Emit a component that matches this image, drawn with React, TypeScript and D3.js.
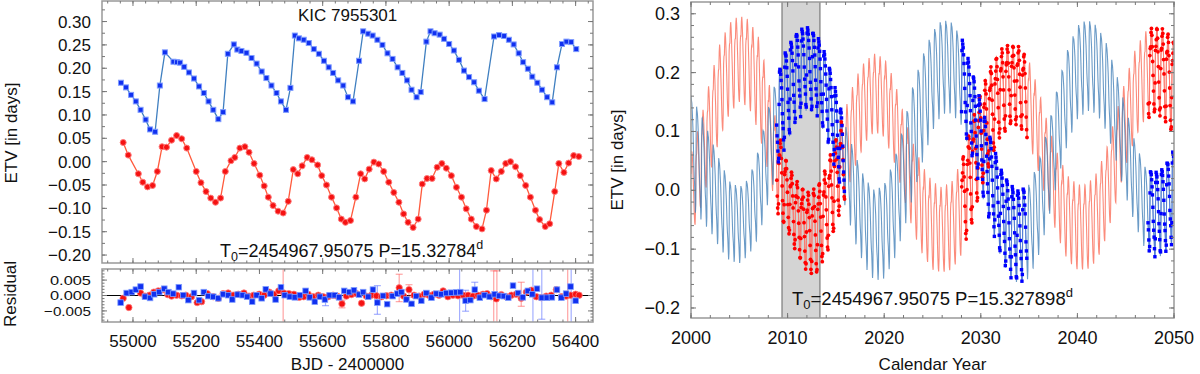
import React, { useEffect, useRef } from "react";
import * as d3 from "d3";

// ---------------- LEFT PANEL: Kepler ETVs (BJD - 2400000, days) ----------------
const primaryBJD = [54962, 54978, 54994, 55009, 55024, 55040, 55054, 55070, 55085, 55101, 55128, 55139, 55149, 55162, 55177, 55193, 55209, 55224, 55239, 55254, 55270, 55285, 55300, 55319, 55330, 55343, 55359, 55375, 55391, 55407, 55422, 55438, 55454, 55468, 55484, 55498, 55512, 55525, 55540, 55556, 55572, 55588, 55604, 55619, 55633, 55649, 55665, 55680, 55696, 55715, 55728, 55744, 55758, 55773, 55789, 55805, 55821, 55837, 55852, 55867, 55881, 55897, 55910, 55928, 55941, 55954, 55970, 55984, 56000, 56015, 56031, 56047, 56063, 56079, 56094, 56112, 56142, 56158, 56174, 56189, 56204, 56220, 56234, 56249, 56263, 56279, 56294, 56310, 56326, 56341, 56357, 56371, 56386, 56402];
const primaryETV = [0.169, 0.159, 0.143, 0.129, 0.111, 0.090, 0.069, 0.064, 0.163, 0.234, 0.214, 0.213, 0.212, 0.203, 0.191, 0.178, 0.161, 0.147, 0.129, 0.111, 0.091, 0.106, 0.231, 0.251, 0.240, 0.237, 0.233, 0.222, 0.210, 0.193, 0.179, 0.163, 0.147, 0.129, 0.111, 0.158, 0.270, 0.264, 0.261, 0.254, 0.241, 0.231, 0.216, 0.202, 0.190, 0.174, 0.163, 0.138, 0.129, 0.216, 0.279, 0.274, 0.270, 0.261, 0.250, 0.232, 0.220, 0.202, 0.190, 0.174, 0.154, 0.138, 0.149, 0.257, 0.279, 0.275, 0.272, 0.263, 0.252, 0.238, 0.218, 0.195, 0.181, 0.170, 0.152, 0.134, 0.268, 0.271, 0.269, 0.261, 0.251, 0.232, 0.213, 0.199, 0.182, 0.169, 0.154, 0.138, 0.127, 0.202, 0.252, 0.257, 0.256, 0.241];

const secondaryBJD = [54969, 54985, 55017, 55031, 55046, 55062, 55077, 55092, 55106, 55122, 55138, 55154, 55170, 55200, 55215, 55231, 55246, 55261, 55277, 55292, 55310, 55322, 55338, 55354, 55367, 55383, 55401, 55415, 55428, 55443, 55459, 55475, 55491, 55507, 55521, 55535, 55551, 55566, 55584, 55597, 55612, 55628, 55644, 55659, 55672, 55688, 55705, 55720, 55733, 55747, 55762, 55777, 55793, 55809, 55825, 55841, 55856, 55870, 55886, 55902, 55915, 55930, 55946, 55962, 55977, 55991, 56007, 56023, 56039, 56054, 56070, 56086, 56104, 56118, 56133, 56149, 56165, 56179, 56194, 56210, 56225, 56242, 56257, 56273, 56286, 56304, 56318, 56334, 56347, 56363, 56378, 56394, 56410];
const secondaryETV = [0.041, 0.014, -0.026, -0.044, -0.054, -0.051, -0.021, 0.032, 0.031, 0.046, 0.056, 0.049, 0.029, -0.021, -0.045, -0.064, -0.078, -0.087, -0.078, -0.021, 0.002, 0.009, 0.029, 0.032, 0.020, -0.004, -0.029, -0.052, -0.076, -0.094, -0.106, -0.110, -0.085, -0.017, -0.026, -0.009, 0.009, 0.004, -0.007, -0.030, -0.050, -0.076, -0.099, -0.123, -0.130, -0.126, -0.076, -0.026, -0.037, -0.016, -0.001, -0.005, -0.021, -0.044, -0.066, -0.087, -0.112, -0.130, -0.141, -0.123, -0.048, -0.036, -0.036, -0.012, -0.004, -0.014, -0.030, -0.055, -0.076, -0.101, -0.123, -0.139, -0.144, -0.104, -0.019, -0.037, -0.021, -0.004, 0.000, -0.011, -0.030, -0.051, -0.076, -0.104, -0.124, -0.139, -0.133, -0.064, -0.004, -0.023, -0.003, 0.013, 0.011];

// residuals
const primaryResBJD = [54961, 54980, 54996, 55009, 55024, 55038, 55054, 55067, 55083, 55099, 55112, 55127, 55145, 55159, 55175, 55193, 55209, 55224, 55238, 55254, 55270, 55285, 55301, 55314, 55331, 55347, 55361, 55377, 55391, 55407, 55420, 55435, 55451, 55468, 55480, 55496, 55512, 55528, 55546, 55559, 55575, 55591, 55607, 55622, 55638, 55652, 55668, 55684, 55699, 55715, 55728, 55744, 55759, 55773, 55791, 55804, 55821, 55836, 55849, 55865, 55881, 55896, 55912, 55928, 55944, 55960, 55975, 55991, 56007, 56023, 56035, 56052, 56067, 56081, 56097, 56112, 56128, 56144, 56158, 56173, 56187, 56202, 56218, 56233, 56249, 56263, 56278, 56293, 56309, 56325, 56341, 56355, 56370, 56384, 56400];
const primaryRes = [-0.0023, 0.0008, 0.0011, 0.0019, 0.0029, -0.0004, -0.0008, 0.0004, 0.0011, 0.0022, 0.0011, 0.0006, 0.0027, 0.0001, -0.0015, 0.0008, -0.0015, 0.0011, -0.0002, -0.0004, -0.0009, 0.0004, 0.0001, -0.0013, 0.0003, 0.0001, -0.0004, -0.0020, 0.0001, -0.0009, 0.0020, 0.0006, -0.0013, 0.0027, 0.0001, -0.0004, -0.0006, 0.0001, 0.0015, -0.0006, -0.0020, -0.0004, -0.0013, 0.0001, 0.0001, -0.0006, 0.0015, 0.0011, 0.0017, 0.0003, 0.0011, -0.0004, 0.0019, -0.0023, -0.0001, -0.0028, -0.0002, 0.0006, 0.0011, -0.0013, -0.0027, -0.0002, -0.0017, 0.0008, -0.0007, 0.0006, 0.0004, 0.0008, 0.0009, 0.0010, 0.0011, -0.0017, -0.0015, 0.0019, -0.0007, 0.0001, -0.0004, 0.0004, -0.0001, -0.0002, -0.0007, 0.0032, 0.0008, -0.0006, 0.0015, 0.0004, 0.0022, -0.0007, -0.0007, -0.0006, 0.0019, -0.0007, 0.0006, 0.0029, -0.0017];
const secondaryResBJD = [54969, 54987, 55024, 55038, 55052, 55066, 55080, 55096, 55110, 55122, 55138, 55154, 55167, 55185, 55203, 55217, 55235, 55254, 55270, 55285, 55301, 55317, 55333, 55351, 55367, 55382, 55399, 55415, 55431, 55446, 55461, 55477, 55493, 55509, 55526, 55540, 55554, 55570, 55586, 55601, 55617, 55633, 55646, 55661, 55675, 55691, 55707, 55723, 55738, 55754, 55770, 55786, 55802, 55817, 55842, 55856, 55873, 55889, 55905, 55921, 55936, 55952, 55968, 55981, 55996, 56012, 56028, 56044, 56060, 56075, 56091, 56107, 56120, 56133, 56149, 56165, 56181, 56197, 56212, 56228, 56244, 56260, 56276, 56291, 56307, 56323, 56339, 56355, 56370, 56384, 56400, 56411];
const secondaryRes = [-0.0009, -0.0039, 0.0008, -0.0002, 0.0001, 0.0011, 0.0015, 0.0019, 0.0003, -0.0002, 0.0001, -0.0001, 0.0001, -0.0004, -0.0023, -0.0020, 0.0006, -0.0004, -0.0009, 0.0006, 0.0008, 0.0001, 0.0004, 0.0008, -0.0002, 0.0001, 0.0004, 0.0001, 0.0011, 0.0004, 0.0015, 0.0008, 0.0006, 0.0004, -0.0006, -0.0004, 0.0004, -0.0004, 0.0001, -0.0004, -0.0004, 0.0001, -0.0002, -0.0027, -0.0002, 0.0003, 0.0006, -0.0025, -0.0002, 0.0001, -0.0001, -0.0004, -0.0001, 0.0001, 0.0025, -0.0002, 0.0019, 0.0001, -0.0002, 0.0004, 0.0001, 0.0004, 0.0001, 0.0015, -0.0004, 0.0001, -0.0001, 0.0001, 0.0001, -0.0002, 0.0001, 0.0004, 0.0006, -0.0004, -0.0011, 0.0003, -0.0004, 0.0001, 0.0004, -0.0009, 0.0011, 0.0017, -0.0004, -0.0007, -0.0002, 0.0001, 0.0019, -0.0004, -0.0002, 0.0001, 0.0004, 0.0001];

// large residual error bars (time, low, high)
const primaryErrBJD = [55609, 55773, 56033, 56052, 56081, 56265, 56293, 56386];
const primaryErrLo = [-0.0033, -0.0061, -0.02, -0.0051, -0.0009, -0.02, -0.0077, -0.02];
const primaryErrHi = [0.0000, 0.0032, 0.02, 0.0017, 0.0043, 0.02, 0.0100, 0.02];
const secondaryErrBJD = [55475, 55661, 55842, 55873, 56141, 56151, 56228, 56375];
const secondaryErrLo = [-0.02, -0.0040, -0.0020, -0.0005, -0.02, -0.02, -0.0035, -0.02];
const secondaryErrHi = [0.02, -0.0015, 0.0069, 0.0035, 0.0080, 0.0080, 0.0043, 0.02];

// ---------------- RIGHT PANEL: long-term model ----------------
const envYears = [2000, 2001, 2002, 2003, 2004, 2005, 2006, 2007, 2008, 2009, 2010, 2011, 2012, 2013, 2014, 2015, 2016, 2017, 2018, 2019, 2020, 2021, 2022, 2023, 2024, 2025, 2026, 2027, 2028, 2029, 2030, 2031, 2032, 2033, 2034, 2035, 2036, 2037, 2038, 2039, 2040, 2041, 2042, 2043, 2044, 2045, 2046, 2047, 2048, 2049, 2050];
const primaryUpper = [0.16, 0.13, 0.09, 0.05, 0.015, 0.005, 0.02, 0.07, 0.14, 0.2, 0.245, 0.27, 0.279, 0.265, 0.23, 0.17, 0.11, 0.06, 0.02, 0.0, 0.01, 0.05, 0.11, 0.18, 0.23, 0.27, 0.29, 0.285, 0.26, 0.21, 0.15, 0.09, 0.04, 0.01, 0.0, 0.01, 0.05, 0.11, 0.18, 0.24, 0.28, 0.29, 0.28, 0.25, 0.2, 0.14, 0.08, 0.04, 0.03, 0.04, 0.07];
const primaryLower = [-0.03, -0.05, -0.07, -0.1, -0.12, -0.125, -0.11, -0.08, -0.02, 0.04, 0.085, 0.118, 0.137, 0.128, 0.09, 0.03, -0.03, -0.09, -0.13, -0.155, -0.15, -0.12, -0.07, -0.01, 0.05, 0.1, 0.13, 0.13, 0.11, 0.06, 0.0, -0.06, -0.11, -0.15, -0.16, -0.15, -0.11, -0.05, 0.02, 0.08, 0.12, 0.135, 0.13, 0.1, 0.05, -0.01, -0.06, -0.1, -0.115, -0.11, -0.09];
const secondaryUpper = [0.06, 0.12, 0.19, 0.25, 0.285, 0.297, 0.29, 0.26, 0.19, 0.1, 0.045, 0.015, -0.002, 0.005, 0.04, 0.09, 0.14, 0.19, 0.22, 0.232, 0.225, 0.19, 0.13, 0.08, 0.04, 0.015, 0.005, 0.015, 0.05, 0.11, 0.17, 0.21, 0.24, 0.25, 0.245, 0.22, 0.17, 0.11, 0.06, 0.025, 0.01, 0.01, 0.03, 0.07, 0.13, 0.19, 0.24, 0.27, 0.28, 0.275, 0.255];
const secondaryLower = [-0.08, -0.03, 0.03, 0.09, 0.13, 0.15, 0.14, 0.1, 0.03, -0.04, -0.07, -0.11, -0.14, -0.143, -0.11, -0.06, -0.01, 0.04, 0.08, 0.1, 0.09, 0.05, -0.01, -0.07, -0.11, -0.135, -0.14, -0.135, -0.11, -0.06, 0.0, 0.05, 0.09, 0.11, 0.11, 0.08, 0.03, -0.03, -0.08, -0.12, -0.135, -0.135, -0.12, -0.08, -0.02, 0.04, 0.09, 0.12, 0.13, 0.12, 0.09];

// shape of one ~209 d cycle (normalised, read from the Kepler data)
const cyclePhase = [0, 0.0714, 0.1429, 0.2143, 0.2857, 0.3571, 0.4286, 0.5, 0.5714, 0.6429, 0.7143, 0.7857, 0.8571, 0.9286, 1];
const primaryShape = [0, 0.1, 0.85, 1.0, 0.97, 0.95, 0.89, 0.81, 0.72, 0.58, 0.42, 0.32, 0.25, 0.12, 0];
const secondaryShape = [0, 0.15, 0.69, 0.77, 0.77, 0.94, 1.0, 0.93, 0.81, 0.64, 0.49, 0.31, 0.15, 0.04, 0];
const primaryTrough = 55897;
const secondaryTrough = 55886;
const innerPeriod = 209.3;
const eclipsePeriod = 15.327898;
const T0 = 54967.95075;
const secondaryOffset = 7.5;
const dataWindows = [[2008.85, 2015.9], [2028.0, 2034.8], [2047.3, 2050.0]];
const keplerSpan = [2009.42, 2013.35];

const leftXTicks = [55000, 55200, 55400, 55600, 55800, 56000, 56200, 56400];
const leftYTicks = [-0.2, -0.15, -0.1, -0.05, 0, 0.05, 0.1, 0.15, 0.2, 0.25, 0.3];
const resYTicks = [-0.005, 0, 0.005];
const rightXTicks = [2000, 2010, 2020, 2030, 2040, 2050];
const rightYTicks = [-0.2, -0.1, 0, 0.1, 0.2, 0.3];

const FONT = "'Liberation Sans', Arial, Helvetica, sans-serif";

export default function App() {
  const ref = useRef<SVGSVGElement>(null);

  useEffect(() => {
    const svg = d3.select(ref.current);
    svg.selectAll("*").remove();
    const defs = svg.append("defs");
    const clip = (id: string, x0: number, y0: number, x1: number, y1: number) => {
      defs.append("clipPath").attr("id", id).append("rect").attr("x", x0).attr("y", y0).attr("width", x1 - x0).attr("height", y1 - y0);
    };

    const frameCol = "#999";
    const tickCol = "#777";

    const xTicks = (scale: any, vals: number[], yb: number, yt: number, len: number) => {
      vals.forEach((v) => {
        const x = scale(v);
        svg.append("line").attr("x1", x).attr("x2", x).attr("y1", yb).attr("y2", yb - len).attr("stroke", tickCol).attr("stroke-width", 1);
        svg.append("line").attr("x1", x).attr("x2", x).attr("y1", yt).attr("y2", yt + len).attr("stroke", tickCol).attr("stroke-width", 1);
      });
    };
    const yTicks = (scale: any, vals: number[], xl: number, xr: number, len: number) => {
      vals.forEach((v) => {
        const y = scale(v);
        svg.append("line").attr("x1", xl).attr("x2", xl + len).attr("y1", y).attr("y2", y).attr("stroke", tickCol).attr("stroke-width", 1);
        svg.append("line").attr("x1", xr).attr("x2", xr - len).attr("y1", y).attr("y2", y).attr("stroke", tickCol).attr("stroke-width", 1);
      });
    };
    const frame = (x0: number, y0: number, x1: number, y1: number) => {
      svg.append("rect").attr("x", x0).attr("y", y0).attr("width", x1 - x0).attr("height", y1 - y0)
        .attr("fill", "none").attr("stroke", frameCol).attr("stroke-width", 1.5);
    };
    const label = (x: number, y: number, t: string, size: number, anchor = "middle", rot = 0) => {
      const el = svg.append("text").attr("x", x).attr("y", y).attr("text-anchor", anchor)
        .attr("font-family", FONT).attr("font-size", size).attr("fill", "#111").text(t);
      if (rot) el.attr("transform", `rotate(${rot},${x},${y})`);
      return el;
    };

    // ================= LEFT TOP =================
    const L0 = 102, L1 = 593, T_top = 1, T_bot = 263, R_top = 269, R_bot = 322;
    const xL = d3.scaleLinear().domain([54902, 56455]).range([L0, L1]);
    const yT = d3.scaleLinear().domain([-0.217, 0.344]).range([T_bot, T_top]);
    const yR = d3.scaleLinear().domain([-0.0086, 0.0086]).range([R_bot, R_top]);
    clip("clipLT", L0, T_top, L1, T_bot);
    clip("clipLR", L0, R_top, L1, R_bot);

    const gT = svg.append("g").attr("clip-path", "url(#clipLT)");
    const pPts = primaryBJD.map((t, i) => [t, primaryETV[i]] as [number, number]);
    const sPts = secondaryBJD.map((t, i) => [t, secondaryETV[i]] as [number, number]);
    const lineT = d3.line<[number, number]>().x((d) => xL(d[0])).y((d) => yT(d[1]));
    gT.append("path").attr("d", lineT(pPts)!).attr("fill", "none").attr("stroke", "#3f7fc0").attr("stroke-width", 1.3);
    gT.append("path").attr("d", lineT(sPts)!).attr("fill", "none").attr("stroke", "#ff5a3c").attr("stroke-width", 1.3);
    gT.selectAll("circle.s").data(sPts).enter().append("circle")
      .attr("cx", (d) => xL(d[0])).attr("cy", (d) => yT(d[1])).attr("r", 3)
      .attr("fill", "#f51212").attr("stroke", "#ff7b7b").attr("stroke-width", 1);
    gT.selectAll("rect.p").data(pPts).enter().append("rect")
      .attr("x", (d) => xL(d[0]) - 2.5).attr("y", (d) => yT(d[1]) - 2.5).attr("width", 5).attr("height", 5)
      .attr("fill", "#1030f0").attr("stroke", "#7f9cff").attr("stroke-width", 1);

    frame(L0, T_top, L1, T_bot);
    const xMinor = d3.range(54920, 56455, 40);
    xTicks(xL, xMinor, T_bot, T_top, 2.5);
    xTicks(xL, leftXTicks, T_bot, T_top, 5);
    yTicks(yT, d3.range(-0.2, 0.34, 0.025), L0, L1, 3);
    yTicks(yT, leftYTicks, L0, L1, 5);
    leftYTicks.forEach((v) => label(91, yT(v) + 6, d3.format(".2f")(v), 17, "end"));
    label(298, 21, "KIC 7955301", 17, "start");

    const t0L = svg.append("text").attr("x", 220).attr("y", 257).attr("font-family", FONT).attr("font-size", 18).attr("fill", "#111");
    t0L.append("tspan").text("T");
    t0L.append("tspan").attr("font-size", 12.5).attr("dy", 4).text("0");
    t0L.append("tspan").attr("dy", -4).text("=2454967.95075 P=15.32784");
    t0L.append("tspan").attr("font-size", 12.5).attr("dy", -8).text("d");

    label(17, 133, "ETV [in days]", 17, "middle", -90);

    // ================= LEFT RESIDUAL =================
    const gR = svg.append("g").attr("clip-path", "url(#clipLR)");
    gR.append("line").attr("x1", L0).attr("x2", L1).attr("y1", yR(0)).attr("y2", yR(0)).attr("stroke", "#000").attr("stroke-width", 1.2);
    const errBar = (t: number, lo: number, hi: number, col: string) => {
      const x = xL(t);
      gR.append("line").attr("x1", x).attr("x2", x).attr("y1", yR(lo)).attr("y2", yR(hi)).attr("stroke", col).attr("stroke-width", 1.2);
      [lo, hi].forEach((v) => gR.append("line").attr("x1", x - 3.5).attr("x2", x + 3.5).attr("y1", yR(v)).attr("y2", yR(v)).attr("stroke", col).attr("stroke-width", 1.2));
    };
    secondaryErrBJD.forEach((t, i) => errBar(t, secondaryErrLo[i], secondaryErrHi[i], "rgba(255,90,90,0.55)"));
    primaryErrBJD.forEach((t, i) => errBar(t, primaryErrLo[i], primaryErrHi[i], "rgba(90,110,255,0.55)"));
    const sRes = secondaryResBJD.map((t, i) => [t, secondaryRes[i]] as [number, number]);
    const pRes = primaryResBJD.map((t, i) => [t, primaryRes[i]] as [number, number]);
    gR.selectAll("circle.s").data(sRes).enter().append("circle")
      .attr("cx", (d) => xL(d[0])).attr("cy", (d) => yR(d[1])).attr("r", 3.2)
      .attr("fill", "#f51212").attr("stroke", "#ff7b7b").attr("stroke-width", 0.8);
    gR.selectAll("rect.p").data(pRes).enter().append("rect")
      .attr("x", (d) => xL(d[0]) - 2.8).attr("y", (d) => yR(d[1]) - 2.8).attr("width", 5.6).attr("height", 5.6)
      .attr("fill", "#1030f0").attr("stroke", "#7f9cff").attr("stroke-width", 0.8);
    frame(L0, R_top, L1, R_bot);
    xTicks(xL, xMinor, R_bot, R_top, 2.5);
    xTicks(xL, leftXTicks, R_bot, R_top, 5);
    yTicks(yR, d3.range(-0.008, 0.0085, 0.001), L0, L1, 2.5);
    yTicks(yR, resYTicks, L0, L1, 5);
    resYTicks.forEach((v) => {
      const txt = d3.format(".3f")(v);
      label(91, yR(v) + 4.8, txt, 13.5, "end")
        .attr("textLength", txt.length === 6 ? 47 : 41).attr("lengthAdjust", "spacingAndGlyphs");
    });
    leftXTicks.forEach((v) => label(xL(v), 346.5, String(v), 17));
    label((L0 + L1) / 2, 370, "BJD - 2400000", 17);
    label(16, 294, "Residual", 17, "middle", -90);

    // ================= RIGHT PANEL =================
    const Rx0 = 691, Rx1 = 1174, Ry0 = 2, Ry1 = 318;
    const xr = d3.scaleLinear().domain([2000, 2050]).range([Rx0, Rx1]);
    const yr = d3.scaleLinear().domain([-0.217, 0.32]).range([Ry1, Ry0]);
    clip("clipR", Rx0, Ry0, Rx1, Ry1);
    const g = svg.append("g").attr("clip-path", "url(#clipR)");

    g.append("rect").attr("x", xr(keplerSpan[0])).attr("y", Ry0).attr("width", xr(keplerSpan[1]) - xr(keplerSpan[0]))
      .attr("height", Ry1 - Ry0).attr("fill", "#d4d4d4");
    [keplerSpan[0], keplerSpan[1]].forEach((v) =>
      g.append("line").attr("x1", xr(v)).attr("x2", xr(v)).attr("y1", Ry0).attr("y2", Ry1).attr("stroke", "#666").attr("stroke-width", 1));

    const envPU = d3.scaleLinear().domain(envYears).range(primaryUpper);
    const envPL = d3.scaleLinear().domain(envYears).range(primaryLower);
    const envSU = d3.scaleLinear().domain(envYears).range(secondaryUpper);
    const envSL = d3.scaleLinear().domain(envYears).range(secondaryLower);
    const shapeP = d3.scaleLinear().domain(cyclePhase).range(primaryShape);
    const shapeS = d3.scaleLinear().domain(cyclePhase).range(secondaryShape);
    const toDay = (yr: number) => (yr - 2000) * 365.25 + 51544.5;
    const toYear = (d: number) => 2000 + (d - 51544.5) / 365.25;
    const model = (yrv: number, up: any, lo: any, trough: number, shape: any) => {
      const d = toDay(yrv);
      let ph = ((d - trough) / innerPeriod) % 1;
      if (ph < 0) ph += 1;
      const u = up(yrv), l = lo(yrv);
      return l + (u - l) * shape(ph);
    };
    const modelP = (y: number) => model(y, envPU, envPL, primaryTrough, shapeP);
    const modelS = (y: number) => model(y, envSU, envSL, secondaryTrough, shapeS);

    const ts = d3.range(2000, 2050.001, 2.5 / 365.25);
    const lineR = d3.line<number>().x((t) => xr(t));
    g.append("path").attr("d", lineR.y((t) => yr(modelS(t)))(ts)!).attr("fill", "none")
      .attr("stroke", "rgba(250,110,90,0.8)").attr("stroke-width", 1.1);
    g.append("path").attr("d", lineR.y((t) => yr(modelP(t)))(ts)!).attr("fill", "none")
      .attr("stroke", "rgba(70,130,185,0.8)").attr("stroke-width", 1.1);

    // observed-epoch points inside the data windows
    dataWindows.forEach(([a, b]) => {
      const e0 = Math.ceil((toDay(a) - T0) / eclipsePeriod);
      const e1 = Math.floor((toDay(b) - T0) / eclipsePeriod);
      const epochs = d3.range(e0, e1 + 1);
      const sT = epochs.map((e) => toYear(T0 + e * eclipsePeriod + secondaryOffset)).filter((t) => t <= b);
      const pT = epochs.map((e) => toYear(T0 + e * eclipsePeriod));
      g.append("path").attr("d", lineR.y((t) => yr(modelS(t)))(sT)!).attr("fill", "none").attr("stroke", "rgba(255,120,110,0.9)").attr("stroke-width", 1);
      g.append("path").attr("d", lineR.y((t) => yr(modelP(t)))(pT)!).attr("fill", "none").attr("stroke", "rgba(80,120,220,0.9)").attr("stroke-width", 1);
      sT.forEach((t) => g.append("circle").attr("cx", xr(t)).attr("cy", yr(modelS(t))).attr("r", 1.9).attr("fill", "#ff0000"));
      pT.forEach((t) => g.append("rect").attr("x", xr(t) - 1.7).attr("y", yr(modelP(t)) - 1.7).attr("width", 3.4).attr("height", 3.4).attr("fill", "#0000ff"));
    });

    frame(Rx0, Ry0, Rx1, Ry1);
    xTicks(xr, d3.range(2000, 2051, 2), Ry1, Ry0, 3);
    xTicks(xr, rightXTicks, Ry1, Ry0, 5);
    yTicks(yr, d3.range(-0.2, 0.31, 0.02), Rx0, Rx1, 3);
    yTicks(yr, rightYTicks, Rx0, Rx1, 5);
    rightYTicks.forEach((v) => label(680, yr(v) + 6, d3.format(".1f")(v), 18, "end"));
    rightXTicks.forEach((v) => label(xr(v), 344, String(v), 18));
    label((Rx0 + Rx1) / 2, 370, "Calendar Year", 17);
    label(623, 160, "ETV [in days]", 17, "middle", -90);

    const t0R = svg.append("text").attr("x", 792).attr("y", 305).attr("font-family", FONT).attr("font-size", 18.5).attr("fill", "#111");
    t0R.append("tspan").text("T");
    t0R.append("tspan").attr("font-size", 13).attr("dy", 4).text("0");
    t0R.append("tspan").attr("dy", -4).text("=2454967.95075 P=15.327898");
    t0R.append("tspan").attr("font-size", 13).attr("dy", -8).text("d");
  }, []);

  return (
    <svg ref={ref} width={1200} height={374} style={{ position: "absolute", left: 0, top: 0, background: "#fff" }} />
  );
}
